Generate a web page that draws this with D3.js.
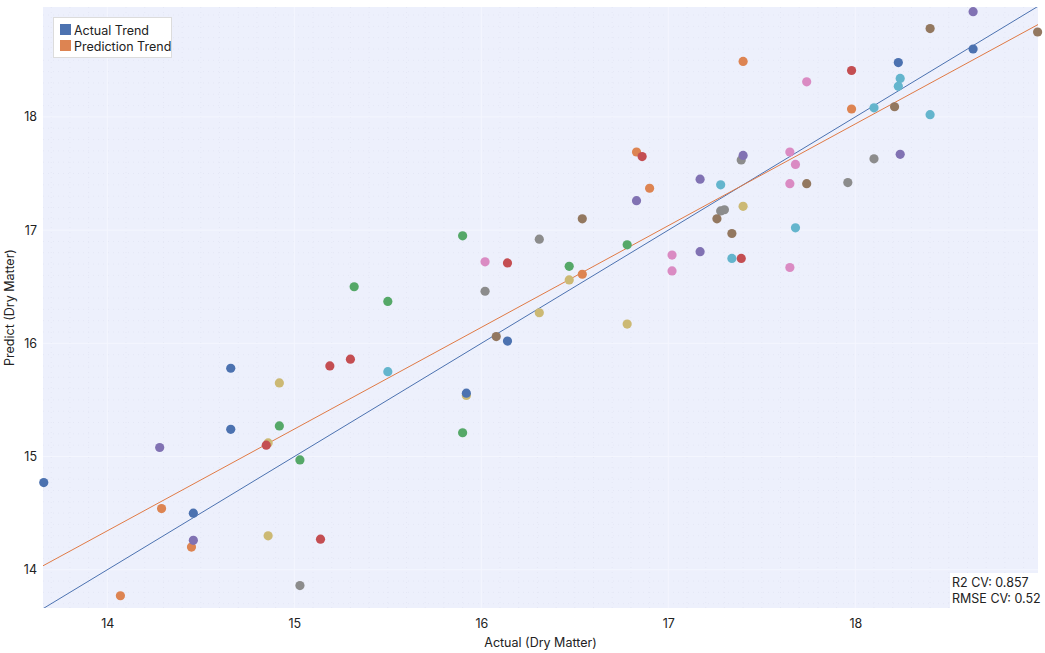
<!DOCTYPE html>
<html>
<head>
<meta charset="utf-8">
<script src="https://cdn.jsdelivr.net/npm/d3@7/dist/d3.min.js"></script>
<style>
    body { margin: 0; background: #fff; }
    text { font-family: Inter, "Noto Sans", sans-serif; fill: #222; }
</style>
</head>
<body>
<div id="vis"></div>
<script>
// groups in drawing order (olive and gray sit underneath the rest)
const groups = ["olive", "gray", "blue", "orange", "green", "red", "purple", "brown", "pink", "cyan"]

const olive = { actual: [14.86, 14.92, 14.86, 16.47, 16.31, 16.78, 15.92, 17.40],
                predict: [14.30, 15.65, 15.12, 16.56, 16.27, 16.17, 15.54, 17.21] }
const gray = { actual: [15.03, 16.02, 16.31, 17.39, 17.28, 17.30, 17.96, 18.10],
               predict: [13.86, 16.46, 16.92, 17.62, 17.17, 17.18, 17.42, 17.63] }
const blue = { actual: [13.66, 14.46, 14.66, 14.66, 16.14, 15.92, 18.63, 18.23],
               predict: [14.77, 14.50, 15.78, 15.24, 16.02, 15.56, 18.60, 18.48] }
const orange = { actual: [14.29, 14.07, 14.45, 16.54, 16.83, 16.90, 17.40, 17.98],
                 predict: [14.54, 13.77, 14.20, 16.61, 17.69, 17.37, 18.49, 18.07] }
const green = { actual: [14.92, 15.03, 15.32, 15.50, 15.90, 16.47, 16.78, 15.90],
                predict: [15.27, 14.97, 16.50, 16.37, 16.95, 16.68, 16.87, 15.21] }
const red = { actual: [15.14, 14.85, 15.19, 15.30, 16.14, 16.86, 17.39, 17.98],
              predict: [14.27, 15.10, 15.80, 15.86, 16.71, 17.65, 16.75, 18.41] }
const purple = { actual: [14.28, 14.46, 16.83, 17.17, 17.40, 17.17, 18.63, 18.24],
                 predict: [15.08, 14.26, 17.26, 17.45, 17.66, 16.81, 18.93, 17.67] }
const brown = { actual: [16.08, 16.54, 17.26, 17.34, 17.74, 18.40, 18.975, 18.21],
                predict: [16.06, 17.10, 17.10, 16.97, 17.41, 18.78, 18.75, 18.09] }
const pink = { actual: [16.02, 17.02, 17.02, 17.65, 17.68, 17.65, 17.65, 17.74],
               predict: [16.72, 16.78, 16.64, 17.69, 17.58, 17.41, 16.67, 18.31] }
const cyan = { actual: [15.50, 17.28, 17.68, 17.34, 18.24, 18.23, 18.10, 18.40],
               predict: [15.75, 17.40, 17.02, 16.75, 18.34, 18.27, 18.08, 18.02] }

const groupData = { olive, gray, blue, orange, green, red, purple, brown, pink, cyan }

const tickValues = [14, 15, 16, 17, 18]
const xRange = [13.656, 18.977]
const yRange = [13.662, 18.971]

// prediction trend: predict = slope * actual + intercept
const predictionSlope = 0.8985
const predictionIntercept = 1.765

const legendLabels = ["Actual Trend", "Prediction Trend"]
const statLabels = ["R2 CV: 0.857", "RMSE CV: 0.52"]

// seaborn "deep" colours
const palette = {
    blue: "#4c72b0", orange: "#dd8452", green: "#55a868", red: "#c44e52", purple: "#8172b3",
    brown: "#937860", pink: "#da8bc3", gray: "#8c8c8c", olive: "#ccb974", cyan: "#64b5cd"
}

const margin = {top: 7, right: 7, bottom: 45, left: 43}
const width = 1045 - margin.left - margin.right
const height = 653 - margin.top - margin.bottom

const svg = d3.select("#vis").append("svg")
    .attr("width", 1045)
    .attr("height", 653)

const g = svg.append("g")
    .attr("transform", "translate(" + margin.left + "," + margin.top + ")")

const x = d3.scaleLinear().domain(xRange).range([0, width])
const y = d3.scaleLinear().domain(yRange).range([height, 0])

//plot background
g.append("rect")
    .attr("width", width)
    .attr("height", height)
    .attr("fill", "#edf0fc")

g.append("clipPath").attr("id", "plotClip")
    .append("rect").attr("width", width).attr("height", height)

//faint dotted minor grid
const minorX = d3.range(137, 190).map(d => d / 10).filter(d => d > xRange[0] && d < xRange[1] && d % 1 !== 0)
const minorY = d3.range(137, 190).map(d => d / 10).filter(d => d > yRange[0] && d < yRange[1] && d % 1 !== 0)

g.append("g").selectAll("line").data(minorX).enter().append("line")
    .attr("x1", d => x(d)).attr("x2", d => x(d))
    .attr("y1", 0).attr("y2", height)
    .attr("stroke", "#e4e7f5").attr("stroke-dasharray", "1,4")
g.append("g").selectAll("line").data(minorY).enter().append("line")
    .attr("y1", d => y(d)).attr("y2", d => y(d))
    .attr("x1", 0).attr("x2", width)
    .attr("stroke", "#e4e7f5").attr("stroke-dasharray", "1,4")

//major grid, barely lighter than the background
g.append("g").selectAll("line").data(tickValues).enter().append("line")
    .attr("x1", d => x(d)).attr("x2", d => x(d))
    .attr("y1", 0).attr("y2", height)
    .attr("stroke", "#f4f6fe").attr("stroke-width", 1)
g.append("g").selectAll("line").data(tickValues).enter().append("line")
    .attr("y1", d => y(d)).attr("y2", d => y(d))
    .attr("x1", 0).attr("x2", width)
    .attr("stroke", "#f4f6fe").attr("stroke-width", 1)

//axes
const xAxis = g.append("g")
    .attr("transform", "translate(0," + height + ")")
    .call(d3.axisBottom(x).tickValues(tickValues).tickSize(0).tickPadding(11).tickFormat(d3.format("d")))
const yAxis = g.append("g")
    .call(d3.axisLeft(y).tickValues(tickValues).tickSize(0).tickPadding(6).tickFormat(d3.format("d")))

for (const axis of [xAxis, yAxis]) {
    axis.select(".domain").remove()
    axis.selectAll("text")
        .style("font-family", "Inter, 'Noto Sans', sans-serif")
        .style("font-size", "12.5px")
        .attr("fill", "#222")
}

//trend lines
const lines = g.append("g").attr("clip-path", "url(#plotClip)")
lines.append("line")
    .attr("x1", x(xRange[0])).attr("y1", y(xRange[0]))
    .attr("x2", x(xRange[1])).attr("y2", y(xRange[1]))
    .attr("stroke", palette.blue).attr("stroke-width", 1)
lines.append("line")
    .attr("x1", x(xRange[0])).attr("y1", y(predictionSlope * xRange[0] + predictionIntercept))
    .attr("x2", x(xRange[1])).attr("y2", y(predictionSlope * xRange[1] + predictionIntercept))
    .attr("stroke", "#e07a45").attr("stroke-width", 1)

//points
const points = []
for (const name of groups) {
    const d = groupData[name]
    d.actual.forEach((a, i) => points.push({group: name, actual: a, predict: d.predict[i]}))
}

g.append("g").selectAll("circle")
    .data(points)
    .enter()
    .append("circle")
    .attr("cx", d => x(d.actual))
    .attr("cy", d => y(d.predict))
    .attr("r", 4.6)
    .attr("fill", d => palette[d.group])

//legend
const legend = g.append("g").attr("transform", "translate(10,10)")
legend.append("rect")
    .attr("x", 0.5).attr("y", 0.5)
    .attr("width", 118).attr("height", 40)
    .attr("fill", "#fff").attr("stroke", "#dcdcdc")
legendLabels.forEach((label, i) => {
    legend.append("rect")
        .attr("x", 7).attr("y", 7 + i * 16)
        .attr("width", 11).attr("height", 11)
        .attr("fill", i === 0 ? palette.blue : palette.orange)
    legend.append("text")
        .attr("x", 21).attr("y", 17.5 + i * 16)
        .style("font-size", "12.5px")
        .text(label)
})

//stats box
const stats = g.append("g").attr("transform", "translate(" + (width - 88) + "," + (height - 35) + ")")
stats.append("rect")
    .attr("width", 88).attr("height", 35)
    .attr("fill", "#fff")
statLabels.forEach((label, i) => {
    stats.append("text")
        .attr("x", 2).attr("y", 14 + i * 16)
        .style("font-size", "12.5px")
        .text(label)
})

//axis titles
svg.append("text")
    .attr("x", margin.left + width / 2)
    .attr("y", 647)
    .attr("text-anchor", "middle")
    .style("font-size", "12.5px")
    .text("Actual (Dry Matter)")

svg.append("text")
    .attr("transform", "translate(14," + (margin.top + height / 2) + ")rotate(-90)")
    .attr("text-anchor", "middle")
    .style("font-size", "12.5px")
    .text("Predict (Dry Matter)")
</script>
</body>
</html>
